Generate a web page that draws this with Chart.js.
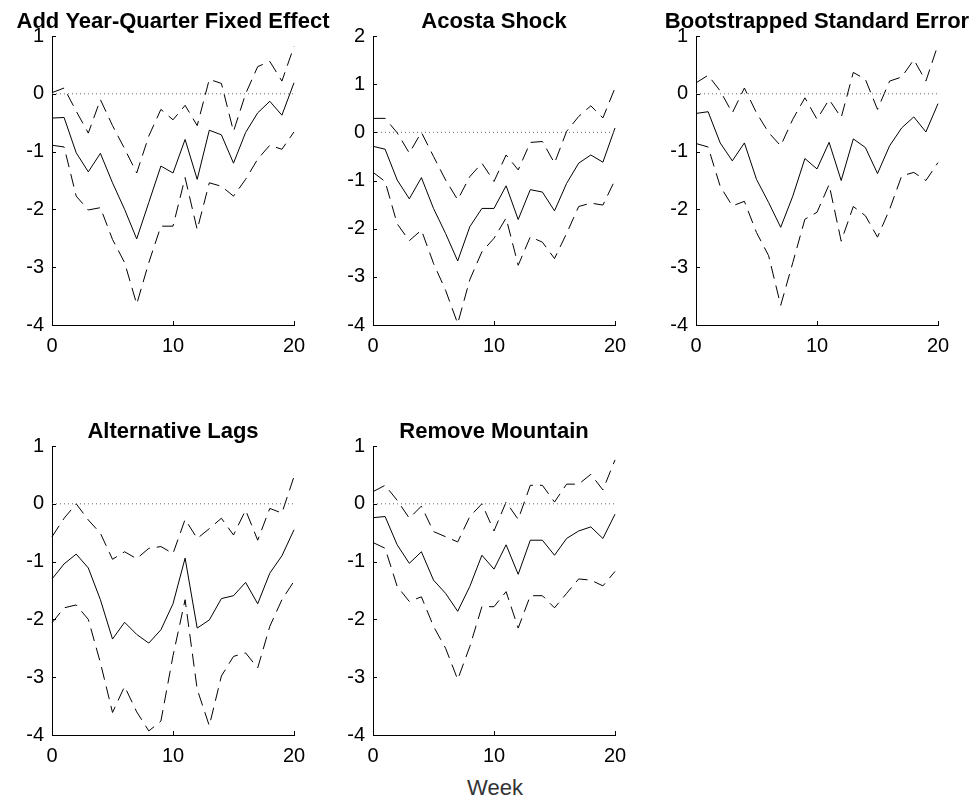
<!DOCTYPE html>
<html>
<head>
<meta charset="utf-8">
<script src="https://cdn.jsdelivr.net/npm/chart.js@4/dist/chart.umd.min.js"></script>
<style>
  body { margin: 0; background: #fff; width: 976px; height: 807px; position: relative; overflow: hidden; }
  canvas { position: absolute; }
  #week { position: absolute; left: 0; width: 990px; top: 775px; text-align: center;
          font: 22px "Liberation Sans", Arial, sans-serif; color: #333; }
</style>
</head>
<body>
<canvas id="c1" width="340" height="365" style="left:0px;top:0px"></canvas>
<canvas id="c2" width="340" height="365" style="left:321px;top:0px"></canvas>
<canvas id="c3" width="340" height="365" style="left:644px;top:0px"></canvas>
<canvas id="c4" width="340" height="365" style="left:0px;top:410px"></canvas>
<canvas id="c5" width="340" height="365" style="left:321px;top:410px"></canvas>
<div id="week">Week</div>
<script>
let weeks = [0,1,2,3,4,5,6,7,8,9,10,11,12,13,14,15,16,17,18,19,20];
let zeroLine = weeks.map(() => 0);

// Add Year-Quarter Fixed Effect
let fixedMid = [-0.42,-0.41,-1.02,-1.35,-1.03,-1.54,-2.0,-2.51,-1.88,-1.25,-1.37,-0.79,-1.48,-0.63,-0.71,-1.2,-0.67,-0.33,-0.13,-0.37,0.19];
let fixedUp  = [0.02,0.1,-0.3,-0.68,-0.1,-0.55,-0.95,-1.37,-0.73,-0.27,-0.45,-0.2,-0.55,0.25,0.18,-0.65,0.0,0.47,0.56,0.22,0.82];
let fixedLo  = [-0.89,-0.92,-1.77,-2.01,-1.97,-2.52,-2.92,-3.64,-2.92,-2.29,-2.29,-1.45,-2.35,-1.54,-1.6,-1.77,-1.48,-1.13,-0.89,-0.96,-0.66];

// Acosta Shock
let acostaMid = [-0.29,-0.35,-0.99,-1.38,-0.94,-1.58,-2.1,-2.67,-1.96,-1.58,-1.58,-1.11,-1.81,-1.19,-1.24,-1.63,-1.06,-0.64,-0.47,-0.62,0.09];
let acostaUp  = [0.29,0.29,-0.01,-0.43,0.0,-0.5,-0.99,-1.4,-0.92,-0.64,-1.02,-0.47,-0.78,-0.21,-0.19,-0.64,0.02,0.33,0.55,0.3,0.92];
let acostaLo  = [-0.83,-1.02,-1.9,-2.25,-2.03,-2.72,-3.28,-3.97,-3.06,-2.48,-2.2,-1.78,-2.76,-2.17,-2.28,-2.62,-2.1,-1.54,-1.47,-1.51,-0.99];

// Bootstrapped Standard Error
let bootMid = [-0.34,-0.31,-0.85,-1.16,-0.85,-1.48,-1.88,-2.31,-1.77,-1.12,-1.3,-0.84,-1.5,-0.78,-0.93,-1.38,-0.9,-0.59,-0.4,-0.66,-0.17];
let bootUp  = [0.19,0.32,0.05,-0.33,0.1,-0.33,-0.67,-0.9,-0.44,-0.07,-0.44,-0.1,-0.41,0.37,0.25,-0.27,0.22,0.29,0.59,0.22,0.85];
let bootLo  = [-0.86,-0.92,-1.6,-1.94,-1.86,-2.4,-2.8,-3.66,-2.92,-2.17,-2.05,-1.57,-2.55,-1.95,-2.11,-2.48,-2.0,-1.42,-1.36,-1.5,-1.19];

// Alternative Lags
let lagsMid = [-1.3,-1.04,-0.87,-1.11,-1.66,-2.34,-2.05,-2.26,-2.41,-2.18,-1.73,-0.94,-2.15,-2.01,-1.64,-1.59,-1.36,-1.73,-1.2,-0.9,-0.45];
let lagsUp  = [-0.57,-0.25,0.0,-0.28,-0.51,-0.96,-0.83,-0.95,-0.77,-0.74,-0.86,-0.27,-0.6,-0.43,-0.25,-0.54,-0.11,-0.63,-0.08,-0.16,0.47];
let lagsLo  = [-2.06,-1.8,-1.75,-2.0,-2.75,-3.61,-3.16,-3.6,-3.93,-3.76,-2.63,-1.66,-3.21,-3.84,-2.98,-2.64,-2.58,-2.84,-2.12,-1.66,-1.34];

// Remove Mountain
let mountMid = [-0.24,-0.22,-0.71,-1.03,-0.83,-1.32,-1.55,-1.86,-1.43,-0.89,-1.13,-0.71,-1.22,-0.63,-0.63,-0.89,-0.6,-0.47,-0.4,-0.6,-0.18];
let mountUp  = [0.21,0.32,0.06,-0.25,-0.04,-0.48,-0.57,-0.66,-0.22,0.0,-0.47,0.03,-0.27,0.32,0.32,0.03,0.34,0.34,0.51,0.24,0.76];
let mountLo  = [-0.67,-0.77,-1.43,-1.69,-1.61,-2.12,-2.5,-3.04,-2.47,-1.78,-1.78,-1.52,-2.15,-1.59,-1.59,-1.8,-1.55,-1.3,-1.32,-1.42,-1.17];

let fontFamily = '"Liberation Sans", Arial, Helvetica, sans-serif';

function pts(arr) {
    return weeks.map((w, i) => ({ x: w, y: arr[i] }));
}

// title over the plot area and small inward tick marks
let panelDecor = {
    id: 'panelDecor',
    afterDraw(chart) {
        let ctx = chart.ctx;
        let area = chart.chartArea;
        let xs = chart.scales.x;
        let ys = chart.scales.y;
        ctx.save();
        ctx.strokeStyle = '#000';
        ctx.lineWidth = 1;
        ctx.beginPath();
        xs.ticks.forEach(t => {
            let px = Math.round(xs.getPixelForValue(t.value)) + 0.5;
            ctx.moveTo(px, area.bottom);
            ctx.lineTo(px, area.bottom - 4);
        });
        ys.ticks.forEach(t => {
            let py = Math.round(ys.getPixelForValue(t.value)) + 0.5;
            ctx.moveTo(area.left, py);
            ctx.lineTo(area.left + 4, py);
        });
        ctx.stroke();
        ctx.fillStyle = '#000';
        ctx.font = 'bold 22px ' + fontFamily;
        ctx.textAlign = 'center';
        ctx.textBaseline = 'alphabetic';
        ctx.fillText(chart.options.plugins.panelDecor.text, (area.left + area.right) / 2, area.top - 8);
        ctx.restore();
    }
};

function makePanel(id, title, mid, up, lo, yMax) {
    let ctx = document.getElementById(id).getContext('2d');
    new Chart(ctx, {
        type: 'line',
        data: {
            datasets: [
                { data: pts(zeroLine), borderColor: '#666', borderWidth: 1, borderDash: [1, 3], pointRadius: 0 },
                { data: pts(up), borderColor: '#000', borderWidth: 1, borderDash: [13, 7], pointRadius: 0 },
                { data: pts(lo), borderColor: '#000', borderWidth: 1, borderDash: [13, 7], pointRadius: 0 },
                { data: pts(mid), borderColor: '#000', borderWidth: 1, pointRadius: 0 }
            ]
        },
        options: {
            responsive: false,
            animation: false,
            clip: false,
            layout: { padding: { top: 36, right: 46, left: 0, bottom: 0 } },
            plugins: {
                legend: { display: false },
                tooltip: { enabled: false },
                panelDecor: { text: title }
            },
            scales: {
                x: {
                    type: 'linear',
                    min: 0,
                    max: 20,
                    afterFit: s => { s.height = 40; },
                    grid: { display: true, drawOnChartArea: false, drawTicks: false },
                    border: { display: true, color: '#000', width: 1 },
                    ticks: { stepSize: 10, color: '#000', padding: 9, maxRotation: 0,
                             font: { family: fontFamily, size: 20 } }
                },
                y: {
                    min: -4,
                    max: yMax,
                    afterFit: s => { s.width = 52; },
                    grid: { display: true, drawOnChartArea: false, drawTicks: false },
                    border: { display: true, color: '#000', width: 1 },
                    ticks: { stepSize: 1, color: '#000', padding: 8,
                             font: { family: fontFamily, size: 20 } }
                }
            }
        },
        plugins: [panelDecor]
    });
}

makePanel('c1', 'Add Year-Quarter Fixed Effect', fixedMid, fixedUp, fixedLo, 1);
makePanel('c2', 'Acosta Shock', acostaMid, acostaUp, acostaLo, 2);
makePanel('c3', 'Bootstrapped Standard Error', bootMid, bootUp, bootLo, 1);
makePanel('c4', 'Alternative Lags', lagsMid, lagsUp, lagsLo, 1);
makePanel('c5', 'Remove Mountain', mountMid, mountUp, mountLo, 1);
</script>
</body>
</html>
